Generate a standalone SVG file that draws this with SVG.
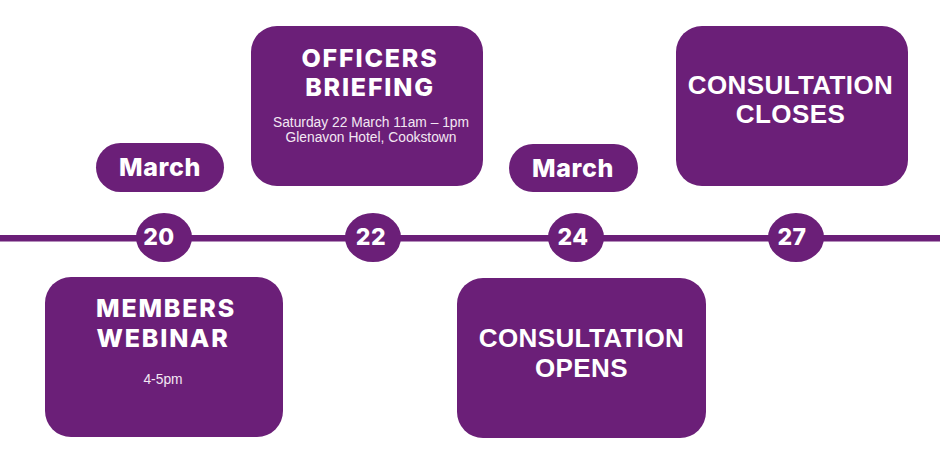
<svg xmlns="http://www.w3.org/2000/svg" width="940" height="457" viewBox="0 0 940 457">
<style>
.box{fill:#6b1f78}
.h{font-family:Inter,"Noto Sans","Liberation Sans",sans-serif;font-weight:800;font-size:25px;fill:#ffffff;text-anchor:middle;letter-spacing:1.8px}
.ha{font-family:"Liberation Sans",Arial,sans-serif;font-weight:700;font-size:26px;fill:#ffffff;text-anchor:middle;letter-spacing:0.4px}
.m{font-family:Inter,"Noto Sans","Liberation Sans",sans-serif;font-weight:800;font-size:25px;fill:#ffffff;text-anchor:middle;letter-spacing:0.6px}
.n{font-family:Inter,"Noto Sans","Liberation Sans",sans-serif;font-weight:800;font-size:23px;fill:#ffffff;text-anchor:middle;letter-spacing:0.5px}
.s{font-family:"Liberation Sans",Arial,sans-serif;font-size:13.8px;fill:#f3e8f3;text-anchor:middle}
</style>
<rect width="940" height="457" fill="#ffffff"/>
<g id="connectors">
<rect x="0" y="235" width="940" height="6.5" class="box"/>
</g>
<g id="d20"><ellipse cx="164" cy="237.5" rx="28" ry="24.5" class="box"/><text x="159" y="245" class="n">20</text></g>
<g id="d22"><ellipse cx="373" cy="237.5" rx="28" ry="24.5" class="box"/><text x="371" y="245" class="n">22</text></g>
<g id="d24"><ellipse cx="576" cy="237.5" rx="28" ry="24.5" class="box"/><text x="573" y="245" class="n">24</text></g>
<g id="d27"><ellipse cx="796" cy="237.5" rx="28" ry="24.5" class="box"/><text x="792" y="245" class="n">27</text></g>
<g id="march1"><rect x="96" y="143" width="128" height="49" rx="24.5" class="box"/><text x="160" y="176" class="m">March</text></g>
<g id="march2"><rect x="509" y="144" width="129" height="48" rx="24" class="box"/><text x="573" y="177" class="m">March</text></g>
<g id="officers">
<rect x="251" y="26" width="232" height="160" rx="26" class="box"/>
<text x="370" y="67" class="h">OFFICERS</text>
<text x="370" y="96" class="h">BRIEFING</text>
<text x="371" y="127" class="s">Saturday 22 March 11am – 1pm</text>
<text x="371" y="142" class="s">Glenavon Hotel, Cookstown</text>
</g>
<g id="members">
<rect x="45" y="277" width="238" height="160" rx="26" class="box"/>
<text x="166" y="317" class="h">MEMBERS</text>
<text x="163" y="347" class="h">WEBINAR</text>
<text x="163" y="384" class="s">4-5pm</text>
</g>
<g id="opens">
<rect x="457" y="278" width="249" height="160" rx="26" class="box"/>
<text x="581.5" y="347" class="ha">CONSULTATION</text>
<text x="581.5" y="377" class="ha">OPENS</text>
</g>
<g id="closes">
<rect x="676" y="26" width="232" height="160" rx="26" class="box"/>
<text x="790.5" y="94" class="ha">CONSULTATION</text>
<text x="790.5" y="123" class="ha">CLOSES</text>
</g>
</svg>
